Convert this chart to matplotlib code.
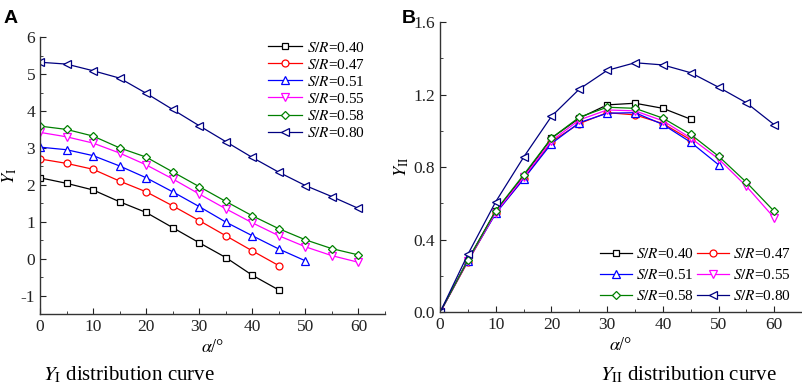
import matplotlib
matplotlib.use("Agg")
import matplotlib.pyplot as plt
from matplotlib.ticker import MultipleLocator, FormatStrFormatter

plt.rcParams['font.family'] = ['Liberation Serif', 'DejaVu Serif']
plt.rcParams['mathtext.fontset'] = 'stix'
plt.rcParams['axes.unicode_minus'] = False

# --- data -----------------------------------------------------------------
ratios = ["0.40", "0.47", "0.51", "0.55", "0.58", "0.80"]
alpha_40 = [0, 5, 10, 15, 20, 25, 30, 35, 40, 45]
alpha_45 = [0, 5, 10, 15, 20, 25, 30, 35, 40, 45]
alpha_50 = [0, 5, 10, 15, 20, 25, 30, 35, 40, 45, 50]
alpha_60 = [0, 5, 10, 15, 20, 25, 30, 35, 40, 45, 50, 55, 60]

yi_040 = [2.19, 2.04, 1.86, 1.54, 1.25, 0.84, 0.43, 0.03, -0.45, -0.85]
yi_047 = [2.70, 2.58, 2.42, 2.10, 1.81, 1.43, 1.03, 0.62, 0.21, -0.19]
yi_051 = [3.02, 2.95, 2.79, 2.51, 2.19, 1.81, 1.41, 0.99, 0.62, 0.26, -0.06]
yi_055 = [3.42, 3.30, 3.13, 2.86, 2.54, 2.16, 1.75, 1.35, 0.97, 0.62, 0.32, 0.08, -0.10]
yi_058 = [3.59, 3.50, 3.32, 3.00, 2.75, 2.35, 1.95, 1.55, 1.16, 0.81, 0.51, 0.27, 0.10]
yi_080 = [5.32, 5.27, 5.09, 4.89, 4.48, 4.04, 3.60, 3.17, 2.74, 2.34, 1.98, 1.68, 1.36]

yii_040 = [0.0, 0.29, 0.56, 0.75, 0.96, 1.07, 1.143, 1.152, 1.124, 1.064]
yii_047 = [0.0, 0.28, 0.55, 0.735, 0.94, 1.04, 1.10, 1.088, 1.04, 0.95]
yii_051 = [0.0, 0.285, 0.545, 0.735, 0.93, 1.045, 1.097, 1.10, 1.035, 0.937, 0.813]
yii_055 = [0.0, 0.285, 0.55, 0.745, 0.945, 1.06, 1.115, 1.11, 1.055, 0.96, 0.845, 0.694, 0.52]
yii_058 = [0.0, 0.287, 0.56, 0.758, 0.96, 1.075, 1.13, 1.124, 1.07, 0.98, 0.86, 0.716, 0.556]
yii_080 = [0.0, 0.32, 0.61, 0.855, 1.08, 1.23, 1.333, 1.375, 1.363, 1.32, 1.24, 1.154, 1.033]

xs = [alpha_40, alpha_45, alpha_50, alpha_60, alpha_60, alpha_60]
ys_a = [yi_040, yi_047, yi_051, yi_055, yi_058, yi_080]
ys_b = [yii_040, yii_047, yii_051, yii_055, yii_058, yii_080]

colors = ["black", "red", "blue", "magenta", "#008000", "#000080"]
markers = ["s", "o", "^", "v", "D", "<"]
sizes = [4.0, 5.0, 5.5, 5.5, 4.5, 5.5]


def style_axes(ax):
    for side in ("top", "right"):
        ax.spines[side].set_visible(False)
    for side in ("left", "bottom"):
        ax.spines[side].set_linewidth(1.0)
        ax.spines[side].set_color("#333333")
    ax.tick_params(which="both", direction="in", labelsize=12.5, colors="#222222")
    ax.tick_params(which="major", length=4)
    ax.tick_params(which="minor", length=2.5)


def draw(ax, ys):
    lines = []
    for x, y, c, m, s, r in zip(xs, ys, colors, markers, sizes, ratios):
        ln, = ax.plot(x, y, color=c, marker=m, markersize=s, markerfacecolor="white",
                      markeredgecolor=c, markeredgewidth=0.9, linewidth=0.9,
                      label=r"$S/R$=" + r)
        lines.append(ln)
    return lines


fig = plt.figure(figsize=(8.03, 3.91), dpi=100)

# panel A
ax1 = fig.add_axes([0.0498, 0.197, 0.4296, 0.708])
draw(ax1, ys_a)
ax1.set_xlim(0, 65)
ax1.set_ylim(-1.5, 6)
ax1.xaxis.set_major_locator(MultipleLocator(10))
ax1.xaxis.set_minor_locator(MultipleLocator(5))
ax1.yaxis.set_major_locator(MultipleLocator(1))
ax1.yaxis.set_minor_locator(MultipleLocator(0.5))
style_axes(ax1)
ax1.set_xlabel(r"$\alpha$/°", fontsize=13, labelpad=3)
ax1.set_ylabel(r"$Y_{\mathrm{I}}$", fontsize=13, labelpad=1)
ax1.legend(loc="upper left", bbox_to_anchor=(0.64, 1.015), frameon=False, borderpad=0,
           fontsize=11, handlelength=2.2, handletextpad=0.3, labelspacing=0.2)

# panel B
ax2 = fig.add_axes([0.548, 0.201, 0.451, 0.743])
lines_b = draw(ax2, ys_b)
ax2.set_xlim(0, 65)
ax2.set_ylim(0, 1.6)
ax2.xaxis.set_major_locator(MultipleLocator(10))
ax2.xaxis.set_minor_locator(MultipleLocator(5))
ax2.yaxis.set_major_locator(MultipleLocator(0.4))
ax2.yaxis.set_minor_locator(MultipleLocator(0.2))
ax2.yaxis.set_major_formatter(FormatStrFormatter("%.1f"))
style_axes(ax2)
ax2.set_xlabel(r"$\alpha$/°", fontsize=13, labelpad=3)
ax2.set_ylabel(r"$Y_{\mathrm{II}}$", fontsize=13, labelpad=2)
# row-major order for the two-column legend
order = [0, 2, 4, 1, 3, 5]
ax2.legend([lines_b[i] for i in order], [lines_b[i].get_label() for i in order],
           loc="upper left", bbox_to_anchor=(0.42, 0.25), ncol=2, frameon=False,
           borderpad=0, fontsize=11, handlelength=2.1, handletextpad=0.3,
           labelspacing=0.45, columnspacing=0.15)

# panel letters and captions
fig.text(0.004, 0.975, "A", fontsize=14, fontweight="bold", family="Liberation Sans",
         va="top", ha="left")
fig.text(0.500, 0.975, "B", fontsize=14, fontweight="bold", family="Liberation Sans",
         va="top", ha="left")
fig.text(0.053, 0.04, r"$Y_{\mathrm{I}}$ distribution curve", fontsize=15,
         va="center", ha="left")
fig.text(0.747, 0.04, r"$Y_{\mathrm{II}}$ distribution curve", fontsize=15,
         va="center", ha="left")

fig.savefig("out.png", dpi=100)
